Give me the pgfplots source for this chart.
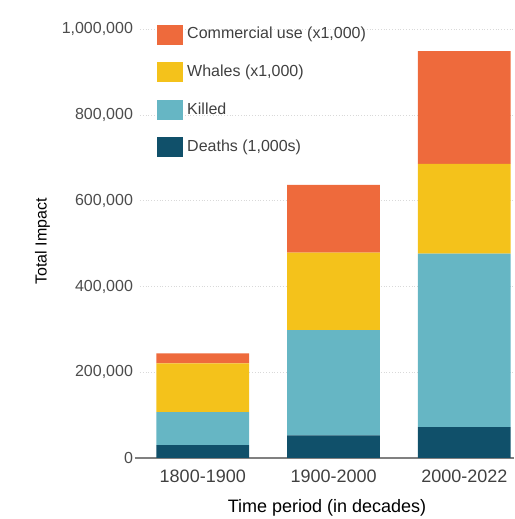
\documentclass[border=0pt]{standalone}
\usepackage{pgfplots}
\pgfplotsset{compat=1.18}
\usepackage{fontspec}
\setmainfont{Liberation Sans}
\definecolor{cOrange}{HTML}{EE6A3C}
\definecolor{cYellow}{HTML}{F4C21B}
\definecolor{cTeal}{HTML}{66B6C4}
\definecolor{cNavy}{HTML}{10506A}
\begin{document}
\begin{tikzpicture}
\useasboundingbox (0,0) rectangle (257pt,259.5pt);
\begin{axis}[
  at={(70pt,30.5pt)}, anchor=south west,
  scale only axis,
  width=187pt, height=216.5pt,
  ybar stacked, bar width=0.71,
  xmin=-0.48, xmax=2.38,
  ymin=0, ymax=1010000,
  scaled y ticks=false,
  xtick={0,1,2},
  xticklabels={1800-1900,1900-2000,2000-2022},
  ytick={0,200000,400000,600000,800000,1000000},
  yticklabels={0,{200,000},{400,000},{600,000},{800,000},{1,000,000}},
  /pgf/number format/assume math mode=true,
  yticklabel style={font=\footnotesize, text=black!70},
  xticklabel style={font=\small, text=black!75, yshift=-2.5pt},
  axis line style={draw=none},
  major tick length=0pt,
  ymajorgrids, grid style={densely dotted, black!15},
  ylabel={Total Impact}, xlabel={Time period (in decades)},
  ylabel style={font=\footnotesize, yshift=-1pt},
  xlabel style={font=\small, yshift=-1.5pt},
  legend style={at={(0.045,1.005)}, anchor=north west, draw=none, fill=none,
    inner sep=0pt, font=\footnotesize, text=black!75, row sep=7.5pt, cells={anchor=west}},
  reverse legend,
  legend image code/.code={\fill[#1] (0pt,-5pt) rectangle (13pt,5pt);},
  every axis plot/.append style={draw=none},
  clip=false,
]
\addplot[fill=cNavy] coordinates {(0,30000) (1,53000) (2,72000)};
\addplot[fill=cTeal] coordinates {(0,77000) (1,245000) (2,405000)};
\addplot[fill=cYellow] coordinates {(0,114000) (1,181000) (2,209000)};
\addplot[fill=cOrange] coordinates {(0,23000) (1,158000) (2,263000)};
\legend{{Deaths (1,000s)},Killed,{Whales (x1,000)},{Commercial use (x1,000)}}
\draw[black!50, line width=0.6pt] (axis cs:-0.52,0) -- (axis cs:2.38,0);
\end{axis}
\end{tikzpicture}
\end{document}
